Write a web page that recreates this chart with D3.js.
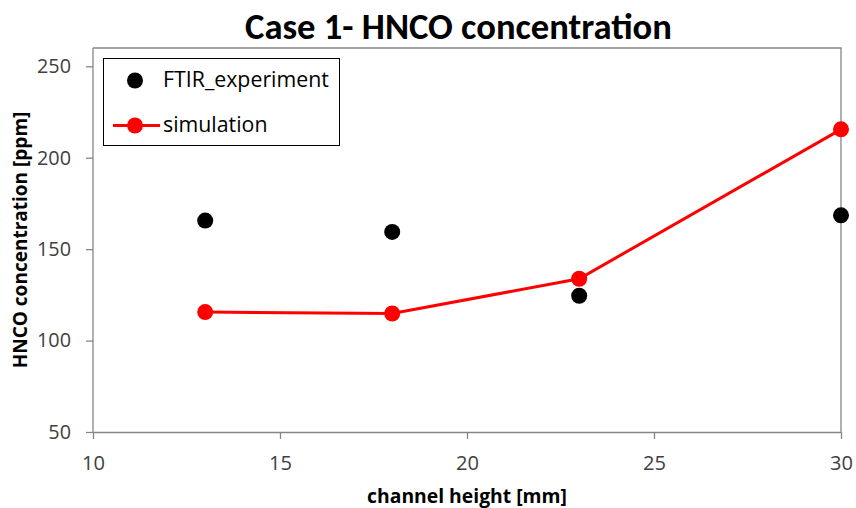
<!DOCTYPE html>
<html>
<head>
<meta charset="utf-8">
<script src="https://cdn.jsdelivr.net/npm/d3@7"></script>
<style>
  html, body { margin: 0; padding: 0; background: #fff; }
  svg { display: block; }
</style>
</head>
<body>
<svg id="chart" width="856" height="508"></svg>
<script>
// Channel heights [mm]
const heights = [13, 18, 23, 30];
// Measured HNCO (FTIR) [ppm]
const ftirValues = [165.6, 159.4, 124.5, 168.5];
// Simulated HNCO [ppm]
const simValues = [115.6, 114.8, 133.8, 215.5];
const xTicks = [10, 15, 20, 25, 30];
const yTicks = [50, 100, 150, 200, 250];
const seriesNames = ["FTIR_experiment", "simulation"];

const W = 856, H = 508;
const margin = { left: 93, right: 15, top: 48, bottom: 76 };
const titleFont = "Carlito, Lato, sans-serif";
const bodyFont = "'Open Sans', 'Noto Sans', sans-serif";

const svg = d3.select("#chart");

// Scale a text element's font size so that it spans the given width
function fitWidth(sel, width) {
  sel.each(function () {
    const el = d3.select(this);
    const fs = parseFloat(el.style("font-size"));
    const w = this.getComputedTextLength();
    if (w > 0) el.style("font-size", (fs * width / w) + "px");
  });
}

const x = d3.scaleLinear().domain([10, 30]).range([margin.left, W - margin.right]);
const y = d3.scaleLinear().domain([50, 260]).range([H - margin.bottom, margin.top]);

const axisColor = "#868686";
const textColor = "#404040";

// Plot frame (top and right edges)
svg.append("path")
  .attr("d", `M${x(10)},${y(260)}H${x(30)}V${y(50)}`)
  .attr("fill", "none").attr("stroke", axisColor).attr("stroke-width", 1.3);

// X axis
const gx = svg.append("g")
  .attr("transform", `translate(0,${y(50)})`)
  .call(d3.axisBottom(x).tickValues(xTicks).tickSizeInner(7).tickSizeOuter(0).tickPadding(15));
gx.select(".domain").attr("stroke", axisColor).attr("stroke-width", 1.3);
gx.selectAll(".tick line").attr("stroke", axisColor).attr("stroke-width", 1.3);
gx.selectAll("text").attr("fill", textColor).attr("dy", null).attr("dominant-baseline", "alphabetic")
  .attr("y", 38)
  .style("font-family", bodyFont).style("font-size", "19px");
fitWidth(gx.selectAll("text"), 23);

// Y axis
const gy = svg.append("g")
  .attr("transform", `translate(${x(10)},0)`)
  .call(d3.axisLeft(y).tickValues(yTicks).tickSizeInner(7).tickSizeOuter(0).tickPadding(15));
gy.select(".domain").attr("stroke", axisColor).attr("stroke-width", 1.3)
  .attr("d", `M0,${y(50)}V${y(260)}`);
gy.selectAll(".tick line").attr("stroke", axisColor).attr("stroke-width", 1.3);
gy.selectAll("text").attr("fill", textColor)
  .style("font-family", bodyFont).style("font-size", "19px");
fitWidth(gy.selectAll("text").filter(d => d >= 100), 34);
gy.selectAll("text").filter(d => d < 100)
  .style("font-size", gy.selectAll("text").filter(d => d === 100).style("font-size"));

// Title
const title = svg.append("text")
  .attr("x", 458.5).attr("y", 39)
  .attr("text-anchor", "middle")
  .style("font-family", titleFont).style("font-weight", "bold").style("font-size", "34px")
  .attr("fill", "#000")
  .text("Case 1- HNCO concentration");
fitWidth(title, 427);

// Axis titles
const xTitle = svg.append("text")
  .attr("x", (x(10) + x(30)) / 2).attr("y", 503)
  .attr("text-anchor", "middle")
  .style("font-family", bodyFont).style("font-weight", "bold").style("font-size", "17px")
  .text("channel height [mm]");
fitWidth(xTitle, 200);

const yTitle = svg.append("text")
  .attr("transform", `translate(27,${(y(50) + y(260)) / 2}) rotate(-90)`)
  .attr("text-anchor", "middle")
  .style("font-family", bodyFont).style("font-weight", "bold").style("font-size", "17px")
  .text("HNCO concentration [ppm]");
fitWidth(yTitle, 257);

// Simulation line
const ftir = heights.map((h, i) => ({ h, v: ftirValues[i] }));
const sim = heights.map((h, i) => ({ h, v: simValues[i] }));

svg.append("path")
  .datum(sim)
  .attr("fill", "none").attr("stroke", "#ff0000").attr("stroke-width", 3)
  .attr("d", d3.line().x(d => x(d.h)).y(d => y(d.v)));

svg.append("g").selectAll("circle").data(sim).join("circle")
  .attr("cx", d => x(d.h)).attr("cy", d => y(d.v)).attr("r", 8)
  .attr("fill", "#ff0000");

// FTIR points
svg.append("g").selectAll("circle").data(ftir).join("circle")
  .attr("cx", d => x(d.h)).attr("cy", d => y(d.v)).attr("r", 8)
  .attr("fill", "#000");

// Legend
const lg = svg.append("g");
lg.append("rect")
  .attr("x", 103.5).attr("y", 58.5).attr("width", 236).attr("height", 87)
  .attr("fill", "#fff").attr("stroke", "#000").attr("stroke-width", 1);
lg.append("circle").attr("cx", 135).attr("cy", 80.5).attr("r", 8).attr("fill", "#000");
lg.append("line").attr("x1", 113).attr("x2", 160).attr("y1", 125.5).attr("y2", 125.5)
  .attr("stroke", "#ff0000").attr("stroke-width", 3);
lg.append("circle").attr("cx", 135).attr("cy", 125.5).attr("r", 8).attr("fill", "#ff0000");
const lgText = lg.selectAll("text.lbl").data(seriesNames).join("text")
  .attr("class", "lbl")
  .attr("x", 163)
  .attr("y", (d, i) => i === 0 ? 87 : 131.5)
  .style("font-family", bodyFont).style("font-size", "19px").attr("fill", "#000")
  .text(d => d);
fitWidth(lgText.filter((d, i) => i === 0), 166);
lgText.filter((d, i) => i === 1)
  .style("font-size", lgText.filter((d, i) => i === 0).style("font-size"));
</script>
</body>
</html>
